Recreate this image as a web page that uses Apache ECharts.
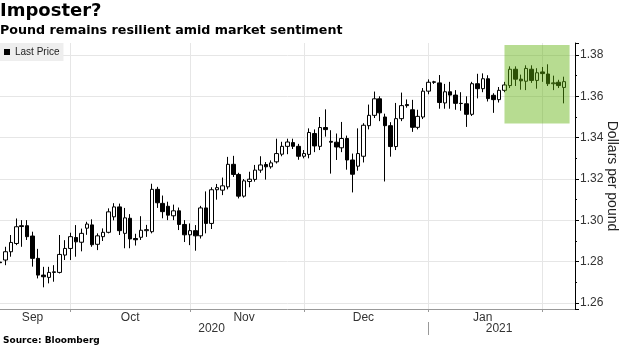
<!DOCTYPE html>
<html><head><meta charset="utf-8">
<script src="https://cdn.jsdelivr.net/npm/echarts@6/dist/echarts.min.js"></script>
<style>html,body{margin:0;padding:0;background:#fff}#c{width:620px;height:348px}</style>
</head><body><div id="c"></div>
<script>
// Trading days (weekdays) shown on the chart
const dates = [
 '2020-09-11','2020-09-14','2020-09-15','2020-09-16','2020-09-17','2020-09-18','2020-09-21','2020-09-22','2020-09-23','2020-09-24','2020-09-25','2020-09-28','2020-09-29','2020-09-30',
 '2020-10-01','2020-10-02','2020-10-05','2020-10-06','2020-10-07','2020-10-08','2020-10-09','2020-10-12','2020-10-13','2020-10-14','2020-10-15','2020-10-16','2020-10-19','2020-10-20','2020-10-21','2020-10-22','2020-10-23','2020-10-26','2020-10-27','2020-10-28','2020-10-29','2020-10-30',
 '2020-11-02','2020-11-03','2020-11-04','2020-11-05','2020-11-06','2020-11-09','2020-11-10','2020-11-11','2020-11-12','2020-11-13','2020-11-16','2020-11-17','2020-11-18','2020-11-19','2020-11-20','2020-11-23','2020-11-24','2020-11-25','2020-11-26','2020-11-27','2020-11-30',
 '2020-12-01','2020-12-02','2020-12-03','2020-12-04','2020-12-07','2020-12-08','2020-12-09','2020-12-10','2020-12-11','2020-12-14','2020-12-15','2020-12-16','2020-12-17','2020-12-18','2020-12-21','2020-12-22','2020-12-23','2020-12-24','2020-12-25','2020-12-28','2020-12-29','2020-12-30','2020-12-31',
 '2021-01-01','2021-01-04','2021-01-05','2021-01-06','2021-01-07','2021-01-08','2021-01-11','2021-01-12','2021-01-13','2021-01-14','2021-01-15','2021-01-18','2021-01-19','2021-01-20','2021-01-21','2021-01-22','2021-01-25','2021-01-26','2021-01-27','2021-01-28','2021-01-29',
 '2021-02-01','2021-02-02','2021-02-03','2021-02-04','2021-02-05','2021-02-08'
];
const opens = [
 1.2798,1.2808,1.2848,1.2888,1.2974,1.2974,1.2924,1.2816,1.2735,1.2724,1.2748,1.2748,1.2832,1.2864,
 1.2917,1.2894,1.2962,1.2978,1.2884,1.2921,1.2942,1.3017,1.3065,1.2937,1.3010,1.2912,1.2918,1.2950,1.2945,1.3150,1.3082,1.3068,1.3022,1.3046,1.2980,1.2930,
 1.2950,1.2925,1.3060,1.2985,1.3148,1.3146,1.3162,1.3271,1.3222,1.3117,1.3188,1.3198,1.3243,1.3270,1.3259,1.3283,1.3320,1.3358,1.3376,1.3358,1.3310,
 1.3319,1.3420,1.3358,1.3449,1.3382,1.3378,1.3351,1.3396,1.3292,1.3262,1.3310,1.3458,1.3508,1.3588,1.3500,1.3458,1.3357,1.3492,1.3560,1.3535,1.3450,1.3500,1.3625,
 1.3670,1.3665,1.3568,1.3622,1.3606,1.3566,1.3564,1.3513,1.3661,1.3637,1.3685,1.3605,1.3584,1.3629,1.3652,1.3731,1.3683,1.3673,1.3731,1.3677,1.3718,
 1.3708,1.3661,1.3668,1.3643
];
const closes = [
 1.2795,1.2848,1.2893,1.2969,1.2970,1.2921,1.2816,1.2735,1.2727,1.2748,1.2751,1.2835,1.2864,1.2921,
 1.2896,1.2937,1.2982,1.2882,1.2925,1.2942,1.3041,1.3065,1.2950,1.3012,1.2910,1.2906,1.2952,1.2955,1.3150,1.3085,1.3042,1.3025,1.3046,1.2980,1.2930,1.2950,
 1.2925,1.3060,1.2985,1.3148,1.3158,1.3167,1.3271,1.3222,1.3117,1.3191,1.3199,1.3243,1.3268,1.3259,1.3278,1.3323,1.3358,1.3379,1.3358,1.3310,1.3323,
 1.3425,1.3360,1.3449,1.3439,1.3378,1.3355,1.3396,1.3292,1.3223,1.3323,1.3460,1.3508,1.3588,1.3520,1.3458,1.3357,1.3492,1.3555,1.3555,1.3450,1.3503,1.3625,1.3668,
 1.3668,1.3570,1.3622,1.3606,1.3566,1.3565,1.3513,1.3661,1.3637,1.3685,1.3589,1.3584,1.3629,1.3655,1.3731,1.3683,1.3675,1.3735,1.3677,1.3714,1.3710,
 1.3661,1.3665,1.3652,1.3671
];
const lows = [
 1.2770,1.2783,1.2824,1.2880,1.2872,1.2905,1.2776,1.2719,1.2676,1.2695,1.2703,1.2743,1.2808,1.2808,
 1.2824,1.2850,1.2930,1.2872,1.2856,1.2900,1.2937,1.3000,1.2929,1.2865,1.2865,1.2878,1.2905,1.2920,1.2937,1.3060,1.3010,1.3001,1.3001,1.2953,1.2895,1.2880,
 1.2853,1.2912,1.2937,1.2958,1.3100,1.3122,1.3150,1.3210,1.3106,1.3110,1.3160,1.3187,1.3230,1.3197,1.3250,1.3275,1.3310,1.3320,1.3345,1.3293,1.3300,
 1.3300,1.3330,1.3340,1.3405,1.3226,1.3292,1.3330,1.3245,1.3135,1.3240,1.3280,1.3440,1.3495,1.3480,1.3188,1.3308,1.3340,1.3480,1.3545,1.3428,1.3440,1.3490,1.3610,
 1.3660,1.3540,1.3540,1.3540,1.3535,1.3530,1.3452,1.3505,1.3590,1.3620,1.3575,1.3520,1.3570,1.3620,1.3640,1.3650,1.3632,1.3630,1.3665,1.3637,1.3670,
 1.3650,1.3630,1.3640,1.3566
];
const highs = [
 1.2866,1.2872,1.2929,1.3009,1.3001,1.3001,1.2945,1.2862,1.2775,1.2775,1.2783,1.2929,1.2904,1.2940,
 1.2977,1.2960,1.2993,1.3005,1.2937,1.2961,1.3058,1.3083,1.3081,1.3060,1.3030,1.2935,1.3020,1.2978,1.3177,1.3162,1.3120,1.3090,1.3076,1.3062,1.3001,1.2985,
 1.2977,1.3070,1.3140,1.3160,1.3176,1.3207,1.3307,1.3312,1.3230,1.3200,1.3235,1.3268,1.3310,1.3282,1.3290,1.3395,1.3380,1.3395,1.3395,1.3370,1.3340,
 1.3445,1.3440,1.3500,1.3537,1.3436,1.3420,1.3476,1.3410,1.3323,1.3445,1.3470,1.3560,1.3623,1.3600,1.3516,1.3475,1.3568,1.3618,1.3585,1.3583,1.3535,1.3640,1.3682,
 1.3675,1.3703,1.3660,1.3670,1.3630,1.3620,1.3600,1.3670,1.3709,1.3711,1.3702,1.3615,1.3645,1.3670,1.3745,1.3745,1.3705,1.3750,1.3750,1.3736,1.3742,
 1.3755,1.3700,1.3680,1.3695
];
const monthNames = ['Jan','Feb','Mar','Apr','May','Jun','Jul','Aug','Sep','Oct','Nov','Dec'];
// Highlighted window (green box)
const highlightFrom = '2021-01-20', highlightTo = '2021-02-05';
const highlightLow = 1.3468, highlightHigh = 1.3848;
const yMin = 1.2571, yMax = 1.3858;

const ohlc = opens.map((o, i) => [o, closes[i], lows[i], highs[i]]);

// month ends / labels derived from the category list
const monthEnds = [];
for (let i = 0; i < dates.length - 1; i++) {
  if (dates[i].slice(5, 7) !== dates[i + 1].slice(5, 7)) monthEnds.push(i);
}
const monthEndSet = new Set(monthEnds);
const monthLabelSet = new Set();
let prev = 0;
monthEnds.forEach(e => { monthLabelSet.add(Math.floor((prev + e) / 2)); prev = e; });
const yearEnds = [];
for (let i = 0; i < dates.length - 1; i++) {
  if (dates[i].slice(0, 4) !== dates[i + 1].slice(0, 4)) yearEnds.push(i);
}
const yearEndSet = new Set(yearEnds);
const yearLabelSet = new Set();
let yp = 0;
yearEnds.concat([dates.length - 1]).forEach(e => { yearLabelSet.add(Math.floor((yp + e) / 2)); yp = e; });

const FONT = '"Liberation Sans", Arial, sans-serif';
const BOLD = '"DejaVu Sans", Verdana, sans-serif';
const chart = echarts.init(document.getElementById('c'), null, {renderer: 'canvas'});
chart.setOption({
  animation: false,
  backgroundColor: '#fff',
  title: [
    {text: 'Imposter?', left: 0, top: 2, padding: 0, textStyle: {fontSize: 18, fontWeight: 'bold', color: '#000', fontFamily: BOLD}},
    {text: 'Pound remains resilient amid market sentiment', left: 0, top: 24, padding: 0, textStyle: {fontSize: 12.7, fontWeight: 'bold', color: '#000', fontFamily: BOLD}},
    {text: 'Source: Bloomberg', left: 3, top: 336, padding: 0, textStyle: {fontSize: 9, fontWeight: 'bold', color: '#000', fontFamily: BOLD}}
  ],
  legend: {
    left: 0, top: 43, padding: [4, 4, 4, 4], backgroundColor: '#eeeeee', itemWidth: 6, itemHeight: 6,
    selectedMode: false,
    data: [{name: 'Last Price', icon: 'rect', itemStyle: {color: '#000', borderWidth: 0}}],
    textStyle: {fontSize: 10, color: '#222', fontFamily: FONT}
  },
  grid: {left: 0, right: 45, top: 43, bottom: 39, containLabel: false, outerBoundsMode: 'none'},
  xAxis: [
    {
      type: 'category', data: dates, boundaryGap: false,
      axisLine: {show: true, lineStyle: {color: '#999'}},
      axisTick: {show: true, interval: i => monthEndSet.has(i), length: 3, lineStyle: {color: '#999'}},
      axisLabel: {interval: i => monthLabelSet.has(i), formatter: v => monthNames[+v.slice(5, 7) - 1], margin: 3, fontSize: 12, color: '#333', fontFamily: FONT},
      splitLine: {show: true, interval: i => monthEndSet.has(i), lineStyle: {color: '#e6e6e6'}}
    },
    {
      type: 'category', data: dates, boundaryGap: false, position: 'bottom', offset: 13,
      axisLine: {show: false},
      axisTick: {show: true, interval: i => yearEndSet.has(i), length: 13, lineStyle: {color: '#999'}},
      axisLabel: {interval: i => yearLabelSet.has(i), formatter: v => v.slice(0, 4), margin: 1, fontSize: 12, color: '#333', fontFamily: FONT},
      splitLine: {show: false}
    }
  ],
  yAxis: {
    type: 'value', position: 'right', min: yMin, max: yMax, splitNumber: 6,
    axisLine: {show: true, lineStyle: {color: '#000'}},
    axisTick: {show: true, length: 4, lineStyle: {color: '#000'}},
    minorTick: {show: true, splitNumber: 2, length: 2, lineStyle: {color: '#000'}},
    axisLabel: {
      margin: 5, color: '#333', fontSize: 12, fontFamily: FONT, showMinLabel: false, showMaxLabel: false,
      formatter: v => (Math.abs(v * 50 - Math.round(v * 50)) > 1e-6 ? '' : v.toFixed(2))
    },
    splitLine: {show: true, showMinLine: false, showMaxLine: false, lineStyle: {color: '#e6e6e6'}},
    name: 'Dollars per pound', nameLocation: 'middle', nameRotate: -90, nameGap: 30, nameMoveOverlap: false,
    nameTextStyle: {fontSize: 14, color: '#222', fontFamily: FONT}
  },
  series: [{
    type: 'candlestick', name: 'Last Price', data: ohlc, barWidth: 4,
    itemStyle: {color: '#fff', color0: '#000', borderColor: '#000', borderColor0: '#000', borderWidth: 1},
    emphasis: {disabled: true},
    markArea: {
      silent: true, z: 5,
      itemStyle: {color: 'rgba(95,178,10,0.45)'},
      data: [[{xAxis: highlightFrom, yAxis: highlightHigh}, {xAxis: highlightTo, yAxis: highlightLow}]]
    }
  }]
});
</script></body></html>
